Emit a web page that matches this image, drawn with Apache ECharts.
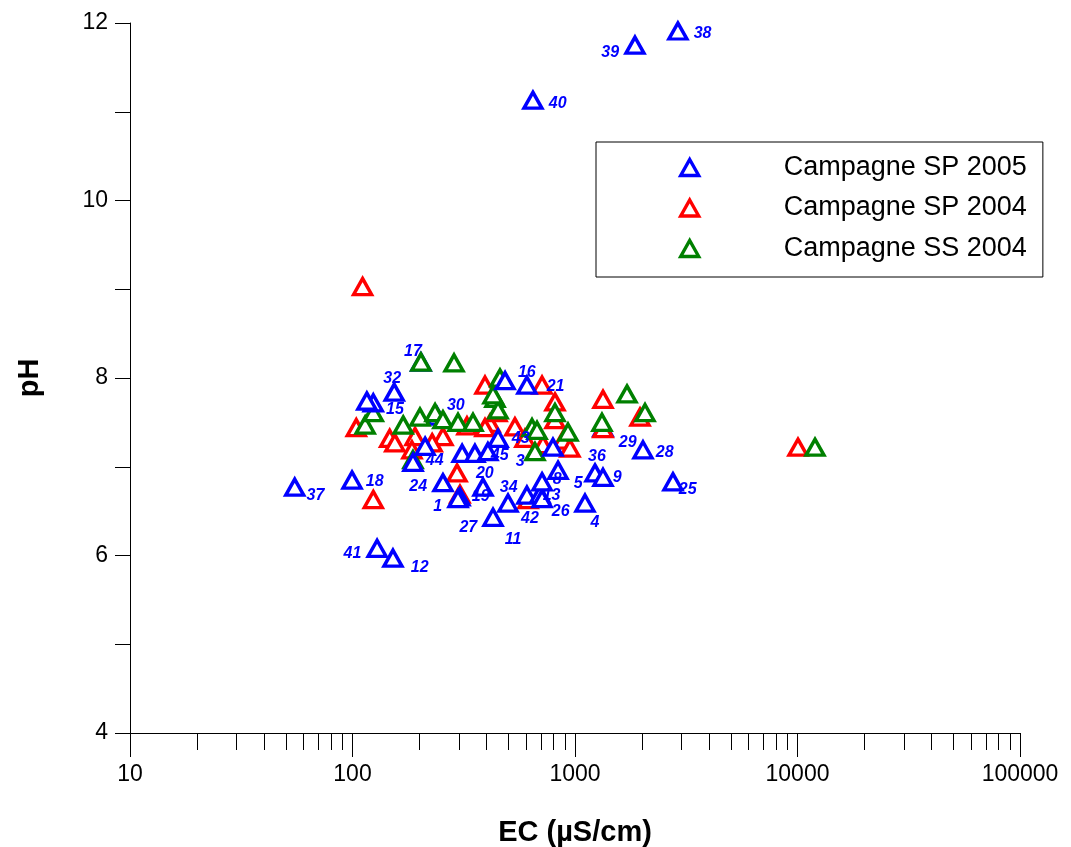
<!DOCTYPE html>
<html><head><meta charset="utf-8">
<script src="https://cdn.jsdelivr.net/npm/echarts@6/dist/echarts.min.js"></script>
<style>html,body{margin:0;padding:0;background:#fff;overflow:hidden}#c{position:absolute;left:0;top:0;width:1071px;height:847px}</style>
</head><body><div id="c"></div>
<script>
// ---- Data ----
const seriesNames = ['Campagne SP 2005', 'Campagne SP 2004', 'Campagne SS 2004'];
// Campagne SP 2005 (labelled samples)
const blueIds = ['38','39','40','16','21','17','32','15','','30','43','20','45','3','44','','24','37','18','41','12','34','19','1','27','11','13','42','26','8','5','4','36','9','28','25','29',''];
const blueEC  = [2900,1860,647,485,608,203,154,124,116,240,451,311,355,406,187,212,255,55,99.5,129,152,386,304,298,428,500,608,696,711,711,839,1109,1230,1336,2021,2756,1336,796];
const bluePH  = [11.91,11.75,11.13,7.97,7.92,8.18,7.84,7.72,7.74,7.57,7.32,7.15,7.15,7.17,7.05,7.23,6.82,6.77,6.85,6.08,5.97,6.77,6.66,6.64,6.43,6.59,6.68,6.69,6.64,6.83,6.96,6.59,6.93,6.88,7.19,6.83,7.44,7.22];
// Campagne SP 2004
const redEC = [111,124,10050,104,147,155,191,185,255,295,304,327,394,415,446,394,537,596,615,711,718,813,813,883,949,1336,1336,1960,228];
const redPH = [9.03,6.63,7.22,7.44,7.32,7.27,7.34,7.19,7.34,6.93,6.69,7.46,7.92,7.49,7.61,7.44,7.45,7.32,6.63,7.92,7.25,7.73,7.53,7.30,7.21,7.76,7.43,7.56,7.27];
// Campagne SS 2004
const greenEC = [203,286,11985,114,124,169,201,235,255,298,348,437,451,460,428,641,675,661,813,930,1322,1713,2064,187];
const greenPH = [8.18,8.17,7.22,7.47,7.61,7.47,7.56,7.61,7.53,7.50,7.50,7.77,7.64,8.00,7.81,7.44,7.41,7.17,7.61,7.39,7.50,7.82,7.61,7.08];
// axes
const xMin = 10, xMax = 100000;
const yMin = 4, yMax = 12, yStep = 2;

// ---- Styles (label placements, drawing order) ----
const blueDrawnUnder = ['17','30','29'];
const labelPlacement = {
  '38':['right',0,3], '39':['left',0,7], '40':['right',0,3], '16':['right',-3,-8], '21':['right',4,1],
  '17':['top',-8,12], '32':['top',-2,9], '15':['right',-3,7], '30':['right',-6,-11], '43':['right',-2,0],
  '20':['right',-2,20], '45':['right',0,2], '3':['right',12,10], '44':['right',-3,-2], '24':['left',0,4],
  '37':['right',-4,8], '18':['right',-2,2], '41':['left',0,5], '12':['right',2,9], '34':['right',1,0],
  '19':['right',-4,0], '1':['left',0,8], '27':['left',0,10], '11':['bottom',5,14], '13':['right',0,0],
  '42':['bottom',-10,2], '26':['right',-6,13], '8':['right',-5,-2], '5':['right',0,13], '4':['bottom',10,-3],
  '36':['top',2,6], '9':['right',-6,0], '28':['right',-3,3], '25':['right',-10,8], '29':['right',0,15]
};
const FONT = "'Liberation Sans', Arial, Helvetica, sans-serif";
const colors = ['#0000ff', '#ff0000', '#008000'];

function markerSeries(name, color, data, z) {
  return {
    name, type: 'scatter', data, z,
    symbol: 'triangle', symbolSize: [18, 16],
    itemStyle: { color: '#ffffff', borderColor: color, borderWidth: 3.4, opacity: 1 },
    emphasis: { disabled: true },
    label: { show: true, formatter: p => p.name, color: '#0000ff', fontFamily: FONT,
      fontSize: 16, fontWeight: 'bold', fontStyle: 'italic', distance: 5 },
    animation: false
  };
}
function bluePoint(i) {
  const id = blueIds[i];
  const pl = labelPlacement[id] || ['right', 0, 3];
  return { name: id, value: [blueEC[i], bluePH[i]], label: { position: pl[0], offset: [pl[1], pl[2]] } };
}
const blueTop = [], blueUnder = [];
blueIds.forEach((id, i) => (blueDrawnUnder.includes(id) ? blueUnder : blueTop).push(bluePoint(i)));
const redData = redEC.map((v, i) => ({ name: '', value: [v, redPH[i]] }));
const greenData = greenEC.map((v, i) => ({ name: '', value: [v, greenPH[i]] }));

const option = {
  backgroundColor: '#ffffff', animation: false,
  grid: { left: 130, right: 51, top: 23, bottom: 114, containLabel: false, outerBoundsMode: 'none' },
  legend: {
    data: seriesNames.map(n => ({ name: n, icon: 'triangle' })),
    orient: 'vertical', left: 596, top: 142,
    itemWidth: 18, itemHeight: 16, itemGap: 13.5, padding: [12, 16, 15, 83],
    borderColor: '#000', borderWidth: 1,
    textStyle: { fontFamily: FONT, fontSize: 27, color: '#000', padding: [0, 0, 0, 80] },
    itemStyle: { color: '#ffffff', borderWidth: 3.4 }, selectedMode: false
  },
  xAxis: {
    type: 'log', logBase: 10, min: xMin, max: xMax,
    name: 'EC (µS/cm)', nameLocation: 'middle', nameGap: 85,
    nameTextStyle: { fontFamily: FONT, fontSize: 29, fontWeight: 'bold', color: '#000' },
    axisLine: { show: true, lineStyle: { color: '#000', width: 1 } },
    axisTick: { show: true, length: 24, lineStyle: { color: '#000' } },
    axisLabel: { fontFamily: FONT, fontSize: 23, color: '#000', margin: 30, formatter: v => String(Math.round(v)) },
    splitLine: { show: false }
  },
  yAxis: {
    type: 'value', min: yMin, max: yMax, interval: yStep,
    name: 'pH', nameLocation: 'middle', nameGap: 86, nameRotate: 90,
    nameTextStyle: { fontFamily: FONT, fontSize: 29, fontWeight: 'bold', color: '#000' },
    axisLine: { show: true, lineStyle: { color: '#000', width: 1 } },
    axisTick: { show: true, length: 15, lineStyle: { color: '#000' } },
    minorTick: { show: true, splitNumber: 2, length: 15, lineStyle: { color: '#000' } },
    axisLabel: { fontFamily: FONT, fontSize: 23, color: '#000', margin: 22 },
    splitLine: { show: false }, minorSplitLine: { show: false }
  },
  series: [
    markerSeries(seriesNames[0], colors[0], blueUnder, 1),
    markerSeries(seriesNames[1], colors[1], redData, 2),
    markerSeries(seriesNames[2], colors[2], greenData, 3),
    markerSeries(seriesNames[0], colors[0], blueTop, 4)
  ]
};

const chart = echarts.init(document.getElementById('c'), null, { renderer: 'canvas' });
chart.setOption(option);

// minor ticks of the log axis (2..9 within each decade), placed via the axis scale
const minorVals = [];
for (let d = xMin; d < xMax; d *= 10) for (let k = 2; k <= 9; k++) minorVals.push(d * k);
const yBase = chart.convertToPixel({ yAxisIndex: 0 }, yMin);
chart.setOption({
  graphic: minorVals.map(v => {
    const x = Math.round(chart.convertToPixel({ xAxisIndex: 0 }, v)) + 0.5;
    return { type: 'line', silent: true, shape: { x1: x, y1: Math.round(yBase), x2: x, y2: Math.round(yBase) + 17 },
      style: { stroke: '#000', lineWidth: 1 } };
  })
});
</script>
</body></html>
